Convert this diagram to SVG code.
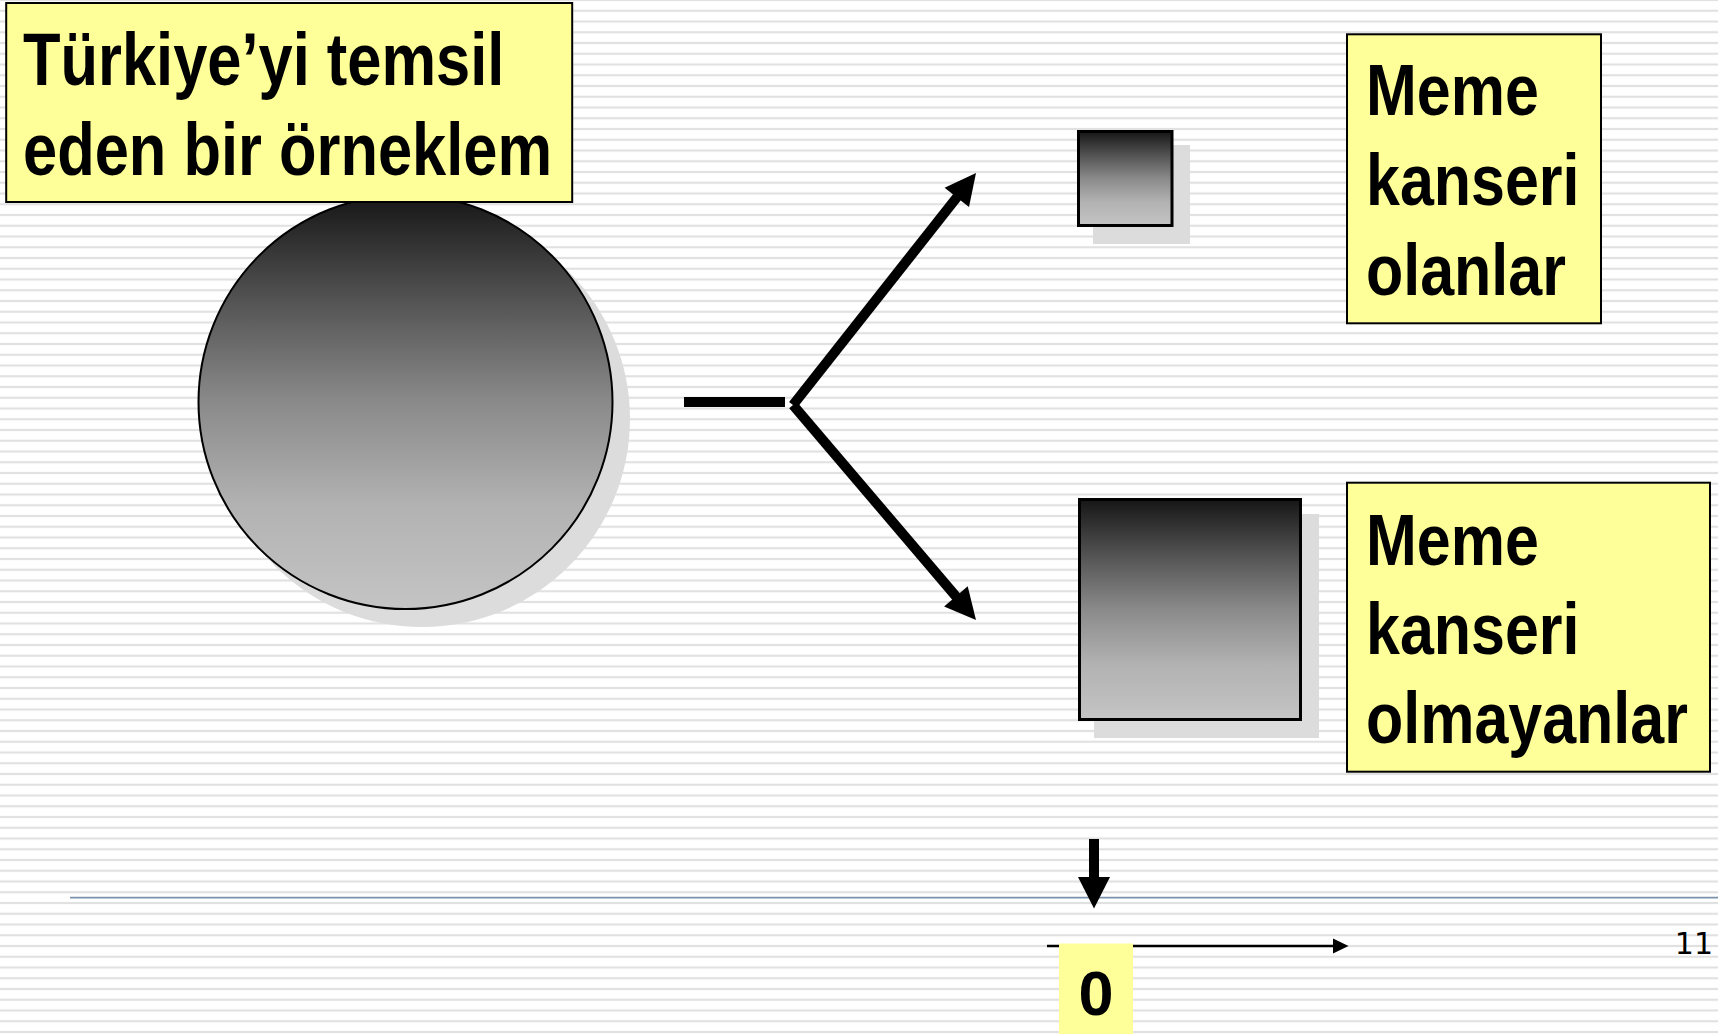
<svg xmlns="http://www.w3.org/2000/svg" width="1718" height="1034" viewBox="0 0 1718 1034">
  <defs>
    <pattern id="stripes" patternUnits="userSpaceOnUse" x="0" y="0" width="40" height="10.75">
      <rect x="0" y="0" width="40" height="10.75" fill="#ffffff"/>
      <rect x="0" y="9.7" width="40" height="2.1" fill="#e1e1e1"/>
      <rect x="0" y="-1.05" width="40" height="2.1" fill="#e1e1e1"/>
    </pattern>
    <linearGradient id="grey" x1="0" y1="0" x2="0" y2="1">
      <stop offset="0" stop-color="#161616"/>
      <stop offset="0.25" stop-color="#525252"/>
      <stop offset="0.5" stop-color="#8a8a8a"/>
      <stop offset="0.75" stop-color="#b2b2b2"/>
      <stop offset="1" stop-color="#c4c4c4"/>
    </linearGradient>
    <style>
      .box { fill: #ffff99; stroke: #000; stroke-width: 2; }
      .big { font-family: "Liberation Sans", Arial, sans-serif; font-weight: bold; fill: #000; }
      .shadow { fill: #dcdcdc; }
      .shape { fill: url(#grey); stroke: #000; }
      .conn { stroke: #000; stroke-width: 10; fill: none; stroke-linecap: butt; }
      .head { fill: #000; }
    </style>
  </defs>

  <rect x="0" y="0" width="1718" height="1034" fill="url(#stripes)"/>

  <g id="population">
    <circle class="shadow" cx="422" cy="419" r="208"/>
    <circle class="shape" cx="405.5" cy="402" r="207" stroke-width="2"/>
  </g>

  <g id="sample-label">
    <rect class="box" x="6.2" y="3" width="566" height="199" stroke-width="2.5"/>
    <g transform="translate(23,0) scale(0.83,1)">
      <text class="big" font-size="74" x="0" y="85.5">Türkiye’yi temsil</text>
      <text class="big" font-size="74" x="0" y="175.5">eden bir örneklem</text>
    </g>
  </g>

  <g id="connectors">
    <rect x="684" y="397" width="101" height="10" fill="#000"/>
    <line class="conn" x1="793" y1="405" x2="957.5" y2="196.5"/>
    <polygon class="head" points="976,173 969,206.9 944.6,187.7"/>
    <line class="conn" x1="793" y1="405" x2="956.5" y2="597"/>
    <polygon class="head" points="976,620 944.1,606.45 967.7,586.35"/>
  </g>

  <g id="cases-square">
    <rect class="shadow" x="1093" y="145" width="97" height="99"/>
    <rect class="shape" x="1078.5" y="131.5" width="93.5" height="94" stroke-width="3"/>
  </g>

  <g id="controls-square">
    <rect class="shadow" x="1094" y="514" width="225" height="224"/>
    <rect class="shape" x="1079.5" y="499.5" width="221" height="220" stroke-width="3"/>
  </g>

  <g id="cases-label">
    <rect class="box" x="1347" y="34.3" width="254" height="289"/>
    <g transform="translate(1366,0) scale(0.847,1)">
      <text class="big" font-size="72" x="0" y="115">Meme</text>
      <text class="big" font-size="72" x="0" y="205">kanseri</text>
      <text class="big" font-size="72" x="0" y="295">olanlar</text>
    </g>
  </g>

  <g id="controls-label">
    <rect class="box" x="1347" y="482.7" width="363" height="289"/>
    <g transform="translate(1366,0) scale(0.847,1)">
      <text class="big" font-size="72" x="0" y="565">Meme</text>
      <text class="big" font-size="72" x="0" y="654">kanseri</text>
      <text class="big" font-size="72" x="0" y="743">olmayanlar</text>
    </g>
  </g>

  <g id="footer-rule">
    <line x1="70" y1="897.7" x2="1718" y2="897.7" stroke="#7b93ab" stroke-width="1.7"/>
  </g>

  <g id="time-axis">
    <rect x="1089" y="839" width="10" height="39" fill="#000"/>
    <polygon class="head" points="1078,877 1110,877 1094,908.5"/>
    <line x1="1047" y1="946" x2="1335" y2="946" stroke="#000" stroke-width="2.5"/>
    <polygon class="head" points="1333,938.5 1348.5,946 1333,953.5"/>
  </g>

  <g id="zero-label">
    <rect x="1059" y="943.5" width="74" height="91" fill="#ffff99"/>
    <text class="big" font-size="63" x="1096" y="1015" text-anchor="middle">0</text>
  </g>

  <g id="page-number">
    <text x="1713" y="954" font-family="DejaVu Sans, sans-serif" font-size="30" text-anchor="end" fill="#000">11</text>
  </g>
</svg>
